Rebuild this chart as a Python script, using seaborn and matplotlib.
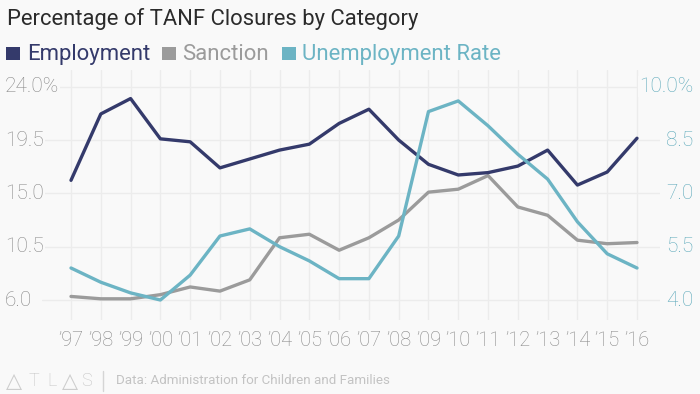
import matplotlib
matplotlib.use("Agg")
import matplotlib.pyplot as plt
import matplotlib.transforms as mtransforms
import seaborn as sns
import pandas as pd
from matplotlib.patches import Rectangle
from matplotlib.lines import Line2D

# ---- data ----
year_labels = ["’97", "’98", "’99", "’00", "’01", "’02", "’03", "’04", "’05", "’06",
               "’07", "’08", "’09", "’10", "’11", "’12", "’13", "’14", "’15", "’16"]
employment = [16.1, 21.7, 23.0, 19.6, 19.35, 17.15, 17.9, 18.65, 19.15, 20.9,
              22.1, 19.5, 17.45, 16.55, 16.75, 17.3, 18.65, 15.7, 16.8, 19.65]
sanction = [6.3, 6.1, 6.1, 6.45, 7.1, 6.75, 7.7, 11.25, 11.55, 10.2,
            11.25, 12.75, 15.1, 15.35, 16.5, 13.85, 13.15, 11.05, 10.75, 10.85]
unemployment = [4.9, 4.5, 4.2, 4.0, 4.7, 5.8, 6.0, 5.5, 5.1, 4.6,
                4.6, 5.8, 9.3, 9.6, 8.9, 8.1, 7.4, 6.2, 5.3, 4.9]
left_ticks = [6.0, 10.5, 15.0, 19.5, 24.0]
left_labels = ["6.0", "10.5", "15.0", "19.5", "24.0%"]
right_ticks = [4.0, 5.5, 7.0, 8.5, 10.0]
right_labels = ["4.0", "5.5", "7.0", "8.5", "10.0%"]
series_names = ["Employment", "Sanction", "Unemployment Rate"]

title = "Percentage of TANF Closures by Category"
source = "Data: Administration for Children and Families"
logo_chars = ["△", "T", "L", "△", "S"]

# ---- style ----
BG = "#f9f9f9"
C_EMP = "#343a6b"
C_SAN = "#9b9b9b"
C_UNE = "#6cb4c4"
C_UNE_TXT = "#5eaabb"
C_TICK = "#888888"
C_GRID = "#ececec"

sns.set_theme(style="white")
plt.rcParams["font.family"] = ["Roboto", "DejaVu Sans"]

W, H = 700, 394
fig = plt.figure(figsize=(W / 100, H / 100), dpi=100, facecolor=BG)

def fx(px):
    return px / W

def fy(py):
    return 1 - py / H

ax_l, ax_r, ax_t, ax_b = 42, 660, 70, 320
ax = fig.add_axes([fx(ax_l), fy(ax_b), fx(ax_r - ax_l), (ax_b - ax_t) / H])
ax.set_facecolor(BG)

df = pd.DataFrame({"x": range(len(year_labels)), "employment": employment,
                   "sanction": sanction, "unemployment": unemployment})

# x scale: '97 at 71px, '16 at 637px
ppu = (637 - 71) / 19
ax.set_xlim(-(71 - ax_l) / ppu, 19 + (ax_r - 637) / ppu)
# left y: 24 at 86.7px, 6 at 300px
lppu = (300 - 86.7) / 18
ax.set_ylim(6 - (ax_b - 300) / lppu, 24 + (86.7 - ax_t) / lppu)

sns.lineplot(data=df, x="x", y="employment", ax=ax, color=C_EMP, lw=2.4, zorder=4)
sns.lineplot(data=df, x="x", y="sanction", ax=ax, color=C_SAN, lw=2.4, zorder=3)

ax2 = ax.twinx()
rppu = (300 - 86.7) / 6
ax2.set_ylim(4 - (ax_b - 300) / rppu, 10 + (86.7 - ax_t) / rppu)
sns.lineplot(data=df, x="x", y="unemployment", ax=ax2, color=C_UNE, lw=2.4, zorder=3)
ax2.patch.set_visible(False)

for a in (ax, ax2):
    for s in a.spines.values():
        s.set_visible(False)
    a.set_xlabel("")
    a.set_ylabel("")
    a.tick_params(left=False, right=False, bottom=False, labelleft=False,
                  labelright=False, labelbottom=False)

ax.set_xticks(range(len(year_labels)))
ax.set_yticks(left_ticks)
ax2.set_yticks([])
ax.grid(True, color=C_GRID, lw=1.0, zorder=0)
ax.set_axisbelow(True)

# y labels drawn over the grid with a background box
for v, lab in zip(left_ticks, left_labels):
    ax.text((5 - ax_l) / (ax_r - ax_l), v, lab, transform=ax.get_yaxis_transform(),
            ha="left", va="center", fontsize=15, color=C_TICK, clip_on=False, zorder=5,
            fontweight="light",
            bbox=dict(boxstyle="square,pad=0.05", fc=BG, ec="none"))
for v, lab in zip(right_ticks, right_labels):
    ax2.text((693 - ax_l) / (ax_r - ax_l), v, lab, transform=ax2.get_yaxis_transform(),
             ha="right", va="center", fontsize=15, color=C_UNE_TXT, clip_on=False, zorder=5,
             fontweight="light",
             bbox=dict(boxstyle="square,pad=0.05", fc=BG, ec="none"))

# x labels
xtrans = mtransforms.blended_transform_factory(ax.transData, fig.transFigure)
for i, lab in enumerate(year_labels):
    ax.text(i, fy(341), lab, transform=xtrans, ha="center", va="center",
            fontsize=14.5, color=C_TICK, clip_on=False, fontweight="light")

# title
fig.text(fx(7), fy(25.5), title, ha="left", va="baseline", fontsize=15.8, color="#2b2b2b")

# legend
leg_items = [(6, 27, series_names[0], C_EMP), (162, 182, series_names[1], C_SAN),
             (282, 302, series_names[2], C_UNE)]
for sq_x, tx, name, c in leg_items:
    fig.patches.append(Rectangle((fx(sq_x), fy(60)), 13.5 / W, 13.5 / H,
                                 transform=fig.transFigure, fc=c, ec="none"))
    fig.text(fx(tx), fy(60), name, ha="left", va="baseline", fontsize=15.9, color=c)

# footer
for ch, cx in zip(logo_chars, [13.5, 33.5, 52, 70, 87]):
    if ch == "△":
        fig.text(fx(cx), fy(387), ch, ha="center", va="baseline", fontsize=15,
                 color="#cdcdcd", family=["DejaVu Sans"], fontweight="normal")
    else:
        fig.text(fx(cx), fy(386), ch, ha="center", va="baseline", fontsize=13,
                 color="#c4c4c4", family=["Roboto", "DejaVu Sans"], fontweight="light")
fig.lines.append(Line2D([fx(102.5), fx(102.5)], [fy(371), fy(391)], transform=fig.transFigure,
                        color="#d5d5d5", lw=1))
fig.text(fx(116), fy(381), source, ha="left", va="center", fontsize=9.6, color="#c3c3c3")

fig.savefig("out.png", dpi=100, facecolor=BG)
